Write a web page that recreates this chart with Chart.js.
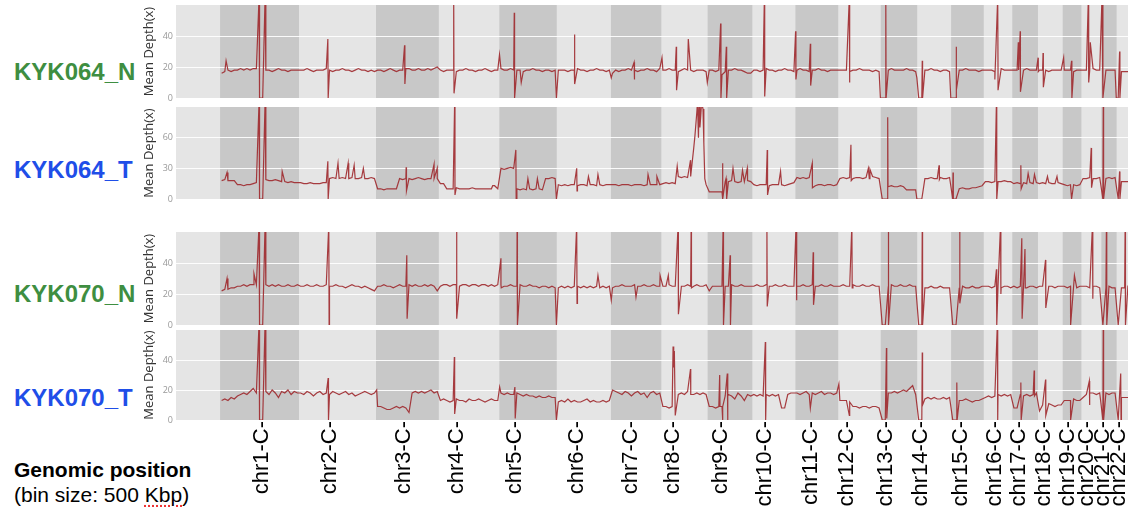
<!DOCTYPE html>
<html>
<head>
<meta charset="utf-8">
<script src="https://cdn.jsdelivr.net/npm/chart.js@4.4.0/dist/chart.umd.min.js"></script>
<style>
  body { margin: 0; width: 1128px; height: 507px; background: #fff; position: relative; overflow: hidden;
         font-family: "Liberation Sans", Arial, sans-serif; }
  .name { position: absolute; left: 14px; font-weight: bold; font-size: 24px; line-height: 24px; }
  .green { color: #3e8e41; }
  .blue { color: #1f4ee8; }
  .panel { position: absolute; left: 139px; }
  .note { position: absolute; left: 14px; font-size: 21px; line-height: 21px; color: #000; }
</style>
</head>
<body>
<div class="name green" style="top:60px">KYK064_N</div>
<div class="name blue" style="top:158px">KYK064_T</div>
<div class="name green" style="top:282px">KYK070_N</div>
<div class="name blue" style="top:386px">KYK070_T</div>
<div style="position:absolute;left:712px;top:112px;font-weight:bold;font-size:32px;line-height:32px;color:#ff0000">8q_amp</div>
<div class="note" style="top:459px;font-weight:bold">Genomic position</div>
<div class="note" style="top:484px">(bin size: 500 <span style="text-decoration:underline dotted #e33;text-underline-offset:3px">Kbp</span>)</div>

<div class="panel" style="top:-3px"><canvas id="p1" width="989" height="109"></canvas></div>
<div class="panel" style="top:99px"><canvas id="p2" width="989" height="108"></canvas></div>
<div class="panel" style="top:224px"><canvas id="p3" width="989" height="109"></canvas></div>
<div class="panel" style="top:322px"><canvas id="p4" width="989" height="185"></canvas></div>

<script>
// longueurs des chromosomes (Mb, hg19) chr1..chr22
const chromLen = [249, 243, 198, 191, 181, 171, 159, 146, 141, 136, 135, 134, 115, 107, 103, 90, 81, 78, 59, 63, 48, 51];
const chromNames = chromLen.map((l, i) => "chr" + (i + 1) + "-C-");
// position des étiquettes (Mb depuis le début du chromosome)
const tickLocal = [132, 98, 88, 57, 50, 63, 63, 38, 41, 41, 50, 28, 16, 13, 32, 35, 22, 19, 16, 19, 6, 6];

// profondeur moyenne par chromosome (valeurs lues, réparties sur le chromosome)
const kyk064N = [
  [16,17,18,17,18,18,19,18,19,18,19,19,0,0,18,18,17,18,19,18,18,17,18,18,18],
  [18,18,19,18,17,18,18,18,19,18,17,18,18,19,18,18,17,18,19,18,18,17,18,17],
  [18,18,17,18,19,18,17,18,18,19,19,18,18,19,18,18,19,18,19,20],
  [18,17,18,18,18,17,18,18,19,18,18,17,18,18,19,18,17,18,18],
  [19,18,18,19,18,18,18,17,18,18,19,18,18,17,18,18,17,18],
  [18,18,18,17,18,18,19,18,18,17,18,18,19,18,18,17,18],
  [16,18,17,18,18,19,18,18,17,18,18,19,18,18,17,19],
  [18,18,19,18,18,17,18,19,18,18,17,18,18,18,17],
  [18,18,17,18,15,17,18,18,19,18,18,17,16,16],
  [18,18,17,18,19,18,18,17,18,18,19,18,18,17],
  [18,19,18,18,17,18,18,19,18,18,17,18,18,18],
  [18,18,18,17,18,18,19,18,18,18,17,18,17],
  [0,0,18,19,18,18,18,18,19,18,18,17],
  [0,0,18,18,19,18,18,17,18,18,17],
  [0,0,18,18,19,18,18,18,17,18],
  [18,18,18,17,18,19,18,18,18],
  [18,18,18,18,19,18,18,18],
  [18,18,18,17,18,18,18,18],
  [18,18,18,17,18,18],
  [18,18,18,19,18,18],
  [0,18,18,18,18],
  [0,17,17,17,17]
];
// pics : [chromosome, position (Mb), profondeur]
const spikes064N = [
  [1,19,24],[1,123,65],[1,142,65],
  [2,91,38],[2,92,0],
  [3,90,34],[3,91,9],
  [4,47,65],[4,48,3],
  [5,0.5,28],[5,47,55],[5,48,0],[5,69,10],[5,180,0],
  [6,56,41],[6,57,9],
  [7,1,13],[7,73,23],[7,74,12],
  [8,2,26],[8,47,33],[8,48,5],[8,85,38],[8,145,10],
  [9,41,48],[9,42,0],[9,59,33],[9,60,0],
  [10,38,65],[10,39,1],
  [11,0.5,43],[11,1.5,12],[11,47,35],[11,48,8],
  [12,35,65],[12,36,10],[12,133,0],
  [13,16,65],[13,17,0],[13,114,13],
  [14,16,24],[14,17,0],[14,106,0],
  [15,16,33],[15,17,5],
  [16,35,12],[16,44,65],[16,45,5],
  [17,19,36],[17,20,18],[17,25,43],[17,26,4],
  [18,0.5,26],[18,1,17],[18,16,29],[18,17,7],
  [19,3,26],[19,28,24],[19,29,0],
  [20,22,65],[20,23,10],[20,28,36],
  [21,2,65],[21,47,0],
  [22,9.5,30],[22,10.5,0]
];

const kyk064T = [
  [18,19,18,18,18,14,14,13,14,14,15,16,0,0,19,18,18,19,18,17,17,16,17,16,16],
  [16,15,15,16,15,15,15,16,16,20,21,20,20,21,20,20,21,20,20,21,20,20,21,20],
  [10,10,9,10,10,10,10,20,19,20,20,19,20,21,20,19,20,20,20,20],
  [15,15,10,10,10,11,10,10,10,10,11,10,10,10,10,10,10,13,10],
  [30,29,30,31,30,10,9,10,9,10,9,10,10,9,20,20,21,20],
  [14,13,14,13,14,14,13,14,14,13,14,14,13,14,13,14,14],
  [14,14,13,14,14,14,13,14,14,14,13,14,14,14,14,14],
  [15,16,15,16,15,22,21,22,21,22,50,85,70,88,14],
  [7,7,7,7,7,17,17,18,17,16,17,17,18,17],
  [14,13,14,14,14,13,14,14,14,14,13,14,15,16],
  [21,20,21,20,21,14,13,14,14,13,14,14,13,14],
  [20,21,20,21,20,21,21,20,21,20,22,21,20],
  [0,0,12,13,12,12,13,12,9,9,9,9],
  [0,0,20,20,21,20,20,21,20,20,21],
  [0,0,10,11,10,10,11,11,12,13],
  [17,17,16,17,17,17,18,17,17],
  [15,16,15,16,15,16,15,16],
  [15,16,15,16,15,15,16,15],
  [14,13,14,14,13,14],
  [20,20,21,20,20,21],
  [0,20,21,20,21],
  [0,17,17,17,17]
];
const spikes064T = [
  [1,22,26],[1,123,95],[1,142,95],[1,196,27],
  [2,91,37],[2,92,0],[2,123,35],[2,155,35],[2,174,33],[2,203,30],
  [3,95,31],[3,96,8],[3,183,34],[3,193,30],
  [4,50,95],[4,51,4],[4,170,13],
  [5,52,48],[5,53,0],[5,90,20],[5,120,20],[5,180,0],
  [6,63,30],[6,64,8],[6,100,22],[6,130,24],
  [7,117,24],[7,145,22],
  [8,50,32],[8,92,38],[8,106,62],[8,114,95],[8,117,60],[8,119,95],[8,124,80],[8,127,95],[8,134,55],[8,137,20],
  [9,47,35],[9,48,0],[9,58,20],[9,60,0],[9,80,30],[9,110,28],[9,125,30],
  [10,47,48],[10,48,4],[10,89,27],
  [11,53,35],[11,54,11],
  [12,40,53],[12,41,18],[12,95,30],[12,100,29],
  [13,20,0],[13,22,80],[13,23,12],[13,114,0],
  [14,69,33],[14,70,19],
  [15,6,26],[15,7,0],
  [16,40,95],[16,41,0],
  [17,27,33],[17,28,10],[17,50,25],[17,70,24],
  [18,30,22],[18,60,22],
  [19,28,0],
  [20,31,50],[20,32,11],
  [21,6,95],[21,7,0],
  [22,9.5,27],[22,10.5,0]
];

const kyk070N = [
  [22,23,23,24,24,25,25,26,25,26,26,26,0,0,26,25,26,25,26,25,25,26,25,25,26],
  [25,25,26,25,25,26,25,25,26,25,25,26,25,25,24,25,26,25,25,24,25,24,23,22],
  [25,25,26,25,25,24,25,26,25,25,26,25,26,25,25,26,25,26,25,22],
  [25,26,26,25,26,26,25,26,26,25,26,26,25,26,26,25,26,25,26],
  [26,25,25,26,25,25,26,25,25,26,25,25,24,25,25,24,25,24],
  [24,25,24,25,24,25,25,24,25,24,25,24,25,24,25,24,25],
  [24,25,25,26,25,25,25,26,25,25,26,25,25,26,25,25],
  [25,25,26,25,25,26,25,25,26,25,25,26,25,25,26],
  [22,25,25,25,25,25,25,26,25,25,26,25,25,25],
  [25,26,25,25,26,25,25,26,25,25,26,25,25,25],
  [25,25,26,25,25,26,25,25,26,25,25,26,25,25],
  [25,26,25,25,26,25,25,26,25,25,26,25,25],
  [0,0,25,26,25,25,26,25,25,26,25,25],
  [0,0,24,24,25,24,24,25,24,24,24],
  [0,0,24,25,24,24,25,24,24,25],
  [25,25,24,25,25,24,25,25,24],
  [25,24,25,25,24,25,25,24],
  [25,25,24,25,25,24,25,25],
  [25,24,25,25,24,25],
  [25,25,24,25,25,24],
  [0,24,25,24,24],
  [0,24,24,25,24]
];
const spikes070N = [
  [1,22,30],[1,107,33],[1,123,65],[1,142,65],
  [2,94,65],[2,95,0],
  [3,97,45],[3,98,4],
  [4,56,65],[4,57,4],
  [5,5,43],[5,6,24],[5,56,65],[5,57,0],[5,180,0],
  [6,63,65],[6,64,14],[6,130,32],
  [7,1,16],[7,79,18],[7,155,32],
  [8,22,32],[8,53,65],[8,54,7],[8,94,65],[8,95,24],
  [9,49,65],[9,50,0],[9,71,45],[9,72,0],
  [10,46,65],[10,47,12],
  [11,2,65],[11,3,16],[11,56,47],[11,57,13],
  [12,43,65],[12,44,24],
  [13,24,65],[13,25,0],
  [14,16,65],[14,17,0],
  [15,27,65],[15,28,14],
  [16,40,36],[16,41,0],[16,53,65],[16,54,20],
  [17,30,56],[17,31,4],[17,40,49],[17,41,24],
  [18,24,42],[18,25,11],
  [19,25,0],[19,37,32],
  [20,35,65],[20,36,17],
  [21,16,65],[21,17,0],
  [22,27,65],[22,28,0]
];

const kyk070T = [
  [13,14,13,15,14,16,17,18,17,19,21,18,0,0,19,17,20,18,15,19,18,20,17,19,18],
  [18,17,19,18,16,18,19,17,18,17,19,18,17,18,19,17,18,16,17,18,19,18,17,18],
  [9,9,8,7,7,8,9,8,9,8,5,18,19,18,19,18,19,20,18,19],
  [13,14,13,12,13,14,13,13,12,14,13,13,14,13,12,13,14,13,13],
  [18,17,18,17,17,18,17,16,17,16,16,15,16,15,15,16,15,15],
  [12,13,12,14,12,13,12,12,13,14,12,13,12,12,13,12,13],
  [20,19,18,17,19,18,16,18,19,17,18,15,18,19,17,18],
  [9,9,8,9,3,17,18,17,19,18,17,18,17,18,17],
  [9,9,8,9,9,16,17,16,14,18,16,13,17,16],
  [17,16,17,16,17,16,17,16,17,8,8,17,18,18],
  [18,17,18,19,17,18,17,18,19,17,18,18,17,18],
  [13,13,13,12,9,9,8,9,9,8,9,9,8],
  [0,0,18,18,19,18,19,20,19,21,23,17],
  [0,0,14,15,14,15,14,14,15,14,15],
  [0,0,13,13,14,13,12,13,13,14],
  [15,16,15,16,17,16,17,16,17],
  [8,8,17,16,17,16,17,18],
  [6,10,10,11,10,9,10,10],
  [13,13,13,14,13,13],
  [15,17,18,18,17,18],
  [0,18,17,18,18],
  [0,15,15,15,15]
];
const spikes070T = [
  [1,123,65],[1,142,65],
  [2,92,28],[2,93,0],
  [3,2,20],
  [4,49,42],[4,50,4],
  [5,1,22],[5,49,22],[5,50,1],[5,180,0],
  [8,37,49],[8,39,35],[8,41,46],[8,92,34],[8,93,17],
  [9,38,30],[9,39,9],[9,47,0],[9,48,9],[9,62,31],[9,63,0],[9,64,16],
  [10,41,52],[10,42,0],
  [11,47,8],
  [12,2,24],[12,35,3],
  [13,18,48],[13,19,1],
  [14,16,45],[14,17,10],
  [15,18,25],[15,19,0],
  [16,43,65],[16,44,0],
  [17,27,25],[17,28,0],[17,69,33],[17,70,16],
  [18,24,27],[18,25,3],
  [19,25,0],
  [20,25,26],[20,26,10],
  [21,6,65],[21,7,0],
  [22,13,31],[22,14,0]
];

// début cumulé de chaque chromosome
const chromStart = [];
chromLen.reduce((acc, l) => { chromStart.push(acc); return acc + l; }, 0);

const xMin = -139, xMax = 2864;

function buildSeries(values, spikes) {
  const pts = [];
  values.forEach((arr, c) => {
    arr.forEach((v, i) => {
      pts.push({ x: chromStart[c] + (i + 0.5) * chromLen[c] / arr.length, y: v });
    });
  });
  spikes.forEach(([c, pos, v]) => pts.push({ x: chromStart[c - 1] + pos, y: v }));
  pts.sort((a, b) => a.x - b.x);
  return pts;
}

// fond gris avec bandes alternées par chromosome
const bandPlugin = {
  id: "bands",
  beforeDraw(chart) {
    const { ctx, chartArea: a } = chart;
    const x = chart.scales.x;
    ctx.save();
    ctx.fillStyle = "#e5e5e5";
    ctx.fillRect(a.left, a.top, a.right - a.left, a.bottom - a.top);
    ctx.fillStyle = "#c8c8c8";
    chromStart.forEach((s, i) => {
      if (i % 2 !== 0) return;
      const x0 = Math.max(x.getPixelForValue(s), a.left);
      const x1 = Math.min(x.getPixelForValue(s + chromLen[i]), a.right);
      if (x1 > x0) ctx.fillRect(x0, a.top, x1 - x0, a.bottom - a.top);
    });
    ctx.restore();
  }
};

function makePanel(id, values, spikes, yMax, yTicks, showX) {
  const ctx = document.getElementById(id).getContext("2d");
  return new Chart(ctx, {
    type: "line",
    data: {
      datasets: [{
        data: buildSeries(values, spikes),
        borderColor: "rgba(158, 40, 44, 0.9)",
        borderWidth: 1.2,
        pointRadius: 0,
        tension: 0,
        fill: false
      }]
    },
    options: {
      responsive: false,
      animation: false,
      layout: { padding: { top: 8, bottom: showX ? 0 : 8, left: 0, right: 0 } },
      plugins: { legend: { display: false }, tooltip: { enabled: false } },
      scales: {
        x: {
          type: "linear",
          min: xMin,
          max: xMax,
          display: showX,
          grid: { display: false, drawTicks: false },
          border: { display: false },
          afterBuildTicks: s => { s.ticks = tickLocal.map((t, i) => ({ value: chromStart[i] + t })); },
          afterFit: s => {
            if (!showX) return;
            s.height = 87; s.paddingLeft = 0; s.paddingRight = 0;
          },
          ticks: {
            autoSkip: false,
            minRotation: 90,
            maxRotation: 90,
            padding: 1,
            color: "#000",
            font: { family: "Liberation Sans", size: 22 },
            callback: (v, i) => chromNames[i]
          }
        },
        y: {
          min: 0,
          max: yMax,
          afterBuildTicks: s => { s.ticks = yTicks.map(v => ({ value: v })); },
          afterFit: s => { s.width = 37; s.paddingTop = 0; s.paddingBottom = 0; },
          grid: { color: "rgba(255,255,255,0.9)", lineWidth: 1, drawTicks: false },
          border: { display: false },
          ticks: { padding: 3, color: "#999", font: { family: "Open Sans", size: 9 } },
          title: {
            display: true,
            text: "Mean Depth(x)",
            color: "#333",
            padding: { top: 2, bottom: 0 },
            font: { family: "Open Sans", size: 13 }
          }
        }
      }
    },
    plugins: [bandPlugin]
  });
}

makePanel("p1", kyk064N, spikes064N, 60, [0, 20, 40], false);
makePanel("p2", kyk064T, spikes064T, 90, [0, 30, 60], false);
makePanel("p3", kyk070N, spikes070N, 60, [0, 20, 40], false);
makePanel("p4", kyk070T, spikes070T, 60, [0, 20, 40], true);
</script>
</body>
</html>
